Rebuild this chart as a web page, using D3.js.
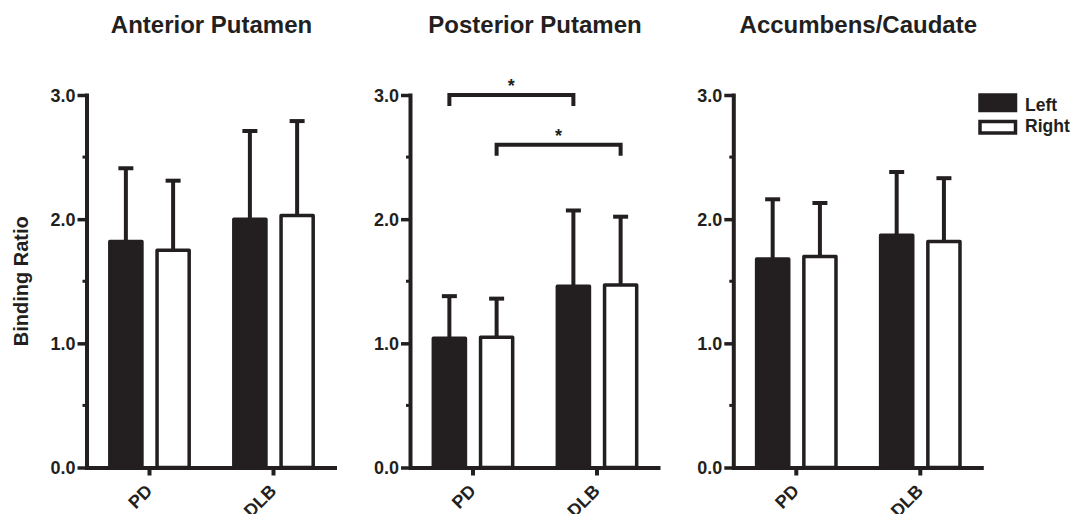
<!DOCTYPE html>
<html>
<head>
<meta charset="utf-8">
<title>Binding Ratio</title>
<style>
  body { margin: 0; background: #fff; }
  svg { display: block; }
  text { font-family: 'Liberation Sans', Arial, sans-serif; font-weight: bold; fill: #231f20; }
</style>
</head>
<body>
<div id="chart"></div>
<script src="https://d3js.org/d3.v7.min.js"></script>
<script>

// data
var regions = ["Anterior Putamen", "Posterior Putamen", "Accumbens/Caudate"];
var groups  = ["PD", "DLB"];
var sides   = ["Left", "Right"];

// means per region, [PD, DLB]
var leftMean  = [[1.82, 2.00], [1.04, 1.46], [1.68, 1.87]];
var rightMean = [[1.75, 2.03], [1.05, 1.47], [1.70, 1.82]];
// upper error (SD) per region, [PD, DLB]
var leftSD  = [[0.59, 0.71], [0.34, 0.61], [0.48, 0.51]];
var rightSD = [[0.56, 0.76], [0.31, 0.55], [0.43, 0.51]];

var yTicks = [0, 1, 2, 3];
var yMinor = [0.5, 1.5, 2.5];

// significance brackets (region index, group/side pairs, height)
var brackets = [
  {region: 1, a: ["PD", "Left"],  b: ["DLB", "Left"],  y: 3.0, label: "*"},
  {region: 1, a: ["PD", "Right"], b: ["DLB", "Right"], y: 2.6, label: "*"}
];

var ink = "#231f20";
var W = 1073, H = 514;
var panelX = [86.5, 410, 733.3];
var axisW = 250;

var svg = d3.select("#chart").append("svg")
    .attr("width", W)
    .attr("height", H);

var y = d3.scaleLinear().domain([0, 3]).range([467.5, 95]);

var x0 = d3.scaleBand().domain(groups).range([0, axisW])
    .paddingInner(0.36).paddingOuter(0.188);
var x1 = d3.scaleBand().domain(sides).range([0, x0.bandwidth()])
    .paddingInner(0.32);

function barX(g, s) { return x0(g) + x1(s) + x1.bandwidth() / 2; }

regions.forEach(function(name, i) {
    var p = svg.append("g").attr("transform", "translate(" + panelX[i] + ",0)");

    var rows = [];
    groups.forEach(function(g, gi) {
        rows.push({group: g, side: "Left",  mean: leftMean[i][gi],  sd: leftSD[i][gi]});
        rows.push({group: g, side: "Right", mean: rightMean[i][gi], sd: rightSD[i][gi]});
    });

    // error bars (upper only)
    var err = p.selectAll(".err").data(rows).enter().append("g");
    err.append("line")
        .attr("x1", function(d) { return barX(d.group, d.side); })
        .attr("x2", function(d) { return barX(d.group, d.side); })
        .attr("y1", function(d) { return y(d.mean); })
        .attr("y2", function(d) { return y(d.mean + d.sd); })
        .attr("stroke", ink).attr("stroke-width", 4);
    err.append("line")
        .attr("x1", function(d) { return barX(d.group, d.side) - 7.5; })
        .attr("x2", function(d) { return barX(d.group, d.side) + 7.5; })
        .attr("y1", function(d) { return y(d.mean + d.sd); })
        .attr("y2", function(d) { return y(d.mean + d.sd); })
        .attr("stroke", ink).attr("stroke-width", 4);

    // bars
    p.selectAll(".bar").data(rows).enter().append("rect")
        .attr("x", function(d) { return x0(d.group) + x1(d.side); })
        .attr("width", x1.bandwidth())
        .attr("y", function(d) { return y(d.mean); })
        .attr("height", function(d) { return y(0) - y(d.mean); })
        .attr("fill", function(d) { return d.side == "Left" ? ink : "#fff"; })
        .attr("stroke", ink)
        .attr("stroke-width", 3.5)
        .attr("stroke-linejoin", "round");

    // y axis
    var ya = p.append("g")
        .call(d3.axisLeft(y).tickValues(yTicks).tickFormat(d3.format(".1f"))
            .tickSize(9).tickSizeOuter(0).tickPadding(2));
    ya.select(".domain").attr("stroke", ink).attr("stroke-width", 4).attr("stroke-linecap", "square");
    ya.selectAll(".tick line").attr("stroke", ink).attr("stroke-width", 3.5);
    ya.selectAll(".tick text").attr("font-size", 18).attr("font-family", null).attr("fill", ink).attr("dy", "0.36em");

    p.selectAll(".minor").data(yMinor).enter().append("line")
        .attr("x1", -4).attr("x2", 0)
        .attr("y1", function(d) { return y(d); })
        .attr("y2", function(d) { return y(d); })
        .attr("stroke", ink).attr("stroke-width", 3);

    // x axis
    var xa = p.append("g")
        .attr("transform", "translate(0," + y(0) + ")")
        .call(d3.axisBottom(x0).tickSize(8).tickSizeOuter(0).tickFormat(""));
    xa.select(".domain").attr("stroke", ink).attr("stroke-width", 4);
    xa.selectAll(".tick line").attr("stroke", ink).attr("stroke-width", 4);

    p.selectAll(".xlab").data(groups).enter().append("text")
        .attr("transform", function(d) {
            return "translate(" + (x0(d) + x0.bandwidth() / 2 + 4) + ",492) rotate(-45)";
        })
        .attr("text-anchor", "end")
        .attr("font-size", 18)
        .text(function(d) { return d; });

    // title
    p.append("text")
        .attr("x", axisW / 2)
        .attr("y", 33)
        .attr("text-anchor", "middle")
        .attr("font-size", 24)
        .text(name);

    // brackets
    brackets.filter(function(b) { return b.region == i; }).forEach(function(b) {
        var xa1 = barX(b.a[0], b.a[1]), xb1 = barX(b.b[0], b.b[1]), yy = y(b.y);
        p.append("path")
            .attr("d", "M" + xa1 + "," + (yy + 11) + "V" + yy + "H" + xb1 + "V" + (yy + 11))
            .attr("fill", "none").attr("stroke", ink).attr("stroke-width", 4);
        p.append("text")
            .attr("x", (xa1 + xb1) / 2)
            .attr("y", yy - 3)
            .attr("text-anchor", "middle")
            .attr("font-size", 18)
            .attr("font-weight", "normal")
            .text(b.label);
    });
});

// y axis title
svg.append("text")
    .attr("transform", "translate(28," + (y(1.5)) + ") rotate(-90)")
    .attr("text-anchor", "middle")
    .attr("font-size", 20)
    .text("Binding Ratio");

// legend
var legend = svg.append("g").attr("transform", "translate(980,95)");
legend.selectAll("rect").data(sides).enter().append("rect")
    .attr("x", 0)
    .attr("y", function(d, i) { return i == 0 ? 0 : 26.5; })
    .attr("width", 35.5)
    .attr("height", function(d, i) { return i == 0 ? 15.5 : 11.5; })
    .attr("fill", function(d) { return d == "Left" ? ink : "#fff"; })
    .attr("stroke", ink)
    .attr("stroke-width", 3.5);
legend.selectAll("text").data(sides).enter().append("text")
    .attr("x", 45)
    .attr("y", function(d, i) { return i == 0 ? 16 : 36.7; })
    .attr("font-size", 17.5)
    .text(function(d) { return d; });

</script>
</body>
</html>
